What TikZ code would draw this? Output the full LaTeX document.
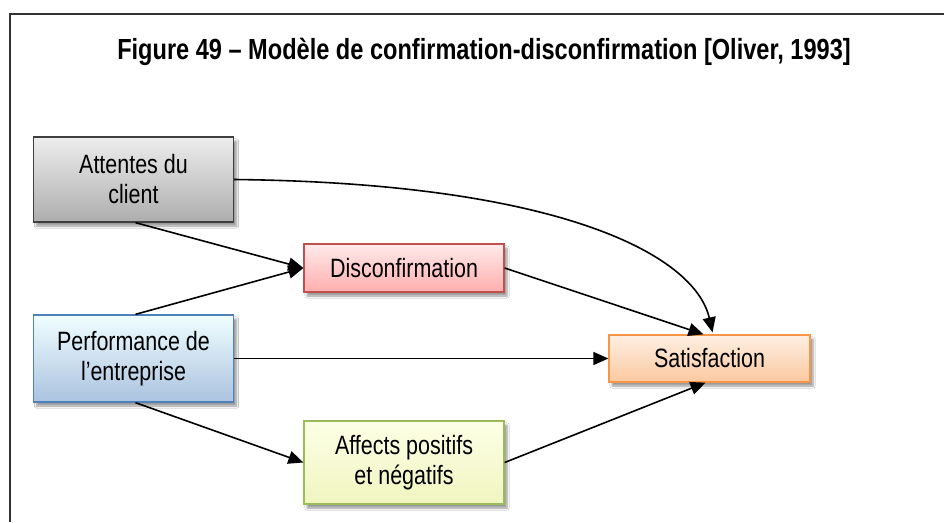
\documentclass[tikz,border=0pt]{standalone}
\usepackage{fontspec}
\setmainfont[FakeStretch=0.81]{Liberation Sans}
\usetikzlibrary{arrows.meta,shadows.blur}
\definecolor{grayb}{HTML}{404040}
\definecolor{redb}{HTML}{C0504D}
\definecolor{blueb}{HTML}{4F81BD}
\definecolor{orangeb}{HTML}{F79646}
\definecolor{greenb}{HTML}{9BBB59}
\tikzset{
  boxbase/.style={draw, line width=1.3pt, minimum width=200pt, align=center,
    font=\fontsize{26.5}{30}\selectfont, inner sep=2pt,
    blur shadow={shadow xshift=3pt, shadow yshift=-4pt, shadow blur steps=6, shadow opacity=40}},
  graybox/.style={boxbase, draw=grayb, top color=black!7, bottom color=black!32},
  redbox/.style={boxbase, draw=redb, top color=red!8, bottom color=red!32},
  bluebox/.style={boxbase, draw=blueb, top color=blue!6!cyan!6, bottom color=blueb!48},
  orangebox/.style={boxbase, draw=orangeb, top color=orangeb!15, bottom color=orangeb!52},
  greenbox/.style={boxbase, draw=greenb, top color=green!8!yellow!10, bottom color=greenb!50!yellow!30},
  conn/.style={line width=1.6pt, -{Triangle[length=15pt,width=13pt]}},
  frameline/.style={line width=2pt, draw=black!80}
}
\begin{document}
\begin{tikzpicture}[x=1pt,y=-1pt]
\useasboundingbox (0,0) rectangle (944,522);
\fill[white] (0,0) rectangle (944,522);
\coordinate (fbl) at (10,522);
\coordinate (ftl) at (10,14);
\coordinate (ftr) at (944,14);
\draw[frameline] (fbl) -- (ftl) -- (ftr);
\node[font=\bfseries\fontsize{29.1}{32}\selectfont, anchor=base, inner sep=0pt] (title) at (484,59)
  {Figure 49 – Modèle de confirmation-disconfirmation [Oliver, 1993]};

\node[graybox, minimum height=85pt] (att) at (133.5,179.5) {Attentes du\\client};
\node[redbox, minimum height=48pt] (dis) at (404,268) {Disconfirmation};
\node[bluebox, minimum height=87pt] (perf) at (133.5,358.5) {Performance de\\l’entreprise};
\node[orangebox, minimum width=201pt, minimum height=47pt] (sat) at (709.5,358.5) {Satisfaction};
\node[greenbox, minimum height=83pt] (aff) at (404,462.5) {Affects positifs\\et négatifs};

\coordinate (attS) at ([xshift=2pt]att.south);
\coordinate (perfN) at ([xshift=2pt]perf.north);
\coordinate (perfS) at ([xshift=2pt]perf.south);
\coordinate (satN1) at ([xshift=-6pt]sat.north);
\coordinate (satN2) at ([xshift=3pt,yshift=2pt]sat.north);
\coordinate (satS) at ([xshift=-4pt]sat.south);

\draw[conn] (attS) -- (dis.west);
\draw[conn] (perfN) -- (dis.west);
\draw[conn] (att.east) .. controls (560,183) and (695,255) .. (satN2);
\draw[conn] (dis.east) -- (satN1);
\draw[conn] (perf.east) -- (sat.west);
\draw[conn] (perfS) -- (aff.west);
\draw[conn] (aff.east) -- (satS);
\end{tikzpicture}
\end{document}
